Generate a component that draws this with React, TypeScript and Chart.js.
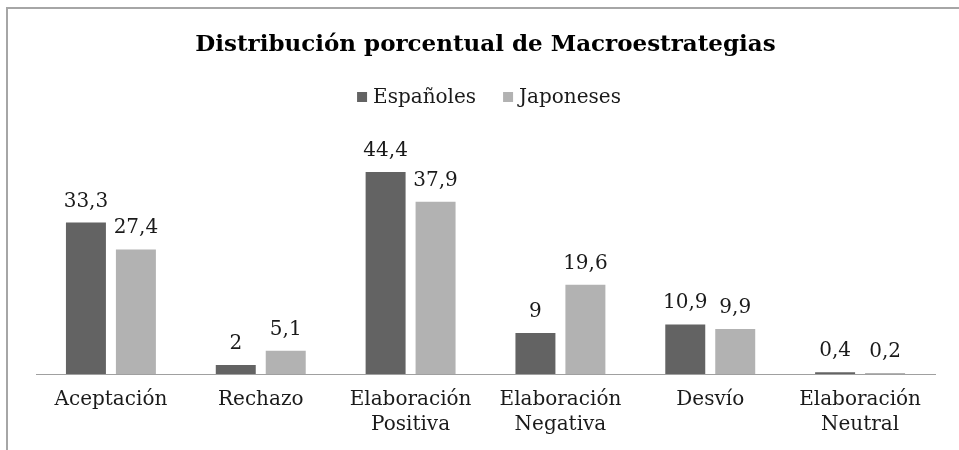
import React, { useEffect, useRef } from "react";
import { Chart, registerables } from "chart.js";

Chart.register(...registerables);

const categories: (string | string[])[] = [
  "Aceptación",
  "Rechazo",
  ["Elaboración", "Positiva"],
  ["Elaboración", "Negativa"],
  "Desvío",
  ["Elaboración", "Neutral"],
];
const espanoles = [33.3, 2, 44.4, 9, 10.9, 0.4];
const japoneses = [27.4, 5.1, 37.9, 19.6, 9.9, 0.2];
const seriesNames = ["Españoles", "Japoneses"];
const seriesColors = ["#636363", "#b2b2b2"];
const titleText = "Distribución porcentual de Macroestrategias";

const FONT = "'DejaVu Serif', serif";

const valueLabels = {
  id: "valueLabels",
  afterDatasetsDraw(chart: any) {
    const ctx = chart.ctx;
    ctx.save();
    ctx.font = `20px ${FONT}`;
    ctx.fillStyle = "#1a1a1a";
    ctx.textAlign = "center";
    ctx.textBaseline = "alphabetic";
    chart.data.datasets.forEach((ds: any, di: number) => {
      const meta = chart.getDatasetMeta(di);
      meta.data.forEach((bar: any, i: number) => {
        const v = ds.data[i];
        ctx.fillText(String(v).replace(".", ","), bar.x, bar.y - 16);
      });
    });
    ctx.restore();
  },
};

const customLegend = {
  id: "customLegend",
  afterDraw(chart: any) {
    const ctx = chart.ctx;
    ctx.save();
    ctx.font = `20px ${FONT}`;
    ctx.textBaseline = "middle";
    ctx.textAlign = "left";
    const box = 10;
    const gapBoxText = 6;
    const gapItems = 27;
    const widths = chart.data.datasets.map((ds: any) => box + gapBoxText + ctx.measureText(ds.label).width);
    const total = widths.reduce((a: number, b: number) => a + b, 0) + gapItems * (widths.length - 1);
    let x = chart.width / 2 + 3 - total / 2;
    const y = 97;
    chart.data.datasets.forEach((ds: any, i: number) => {
      ctx.fillStyle = ds.backgroundColor;
      ctx.fillRect(x, y - box / 2, box, box);
      ctx.fillStyle = "#1a1a1a";
      ctx.fillText(ds.label, x + box + gapBoxText, y + 1);
      x += widths[i] + gapItems;
    });
    ctx.restore();
  },
};

export default function App() {
  const ref = useRef<HTMLCanvasElement | null>(null);
  useEffect(() => {
    if (!ref.current) return;
    const chart = new Chart(ref.current, {
      type: "bar",
      data: {
        labels: categories,
        datasets: [
          { label: seriesNames[0], data: espanoles, backgroundColor: seriesColors[0] },
          { label: seriesNames[1], data: japoneses, backgroundColor: seriesColors[1] },
        ],
      },
      options: {
        responsive: false,
        animation: false,
        devicePixelRatio: 1,
        layout: { padding: { left: 36, right: 37, top: 0, bottom: 0 } },
        datasets: { bar: { categoryPercentage: 0.667, barPercentage: 0.8 } },
        plugins: {
          title: {
            display: true,
            text: titleText,
            color: "#000",
            font: { family: FONT, size: 23, weight: "bold", lineHeight: 1.2 },
            padding: { top: 31, bottom: 88 },
          },
          legend: { display: false },
          tooltip: { enabled: false },
        },
        scales: {
          x: {
            grid: { display: false, drawTicks: false },
            border: { display: true, color: "#a0a0a0", width: 1 },
            ticks: {
              color: "#1a1a1a",
              font: { family: FONT, size: 20, lineHeight: 1.25 },
              padding: 13,
              maxRotation: 0,
              autoSkip: false,
            },
          },
          y: {
            display: false,
            min: 0,
            max: 50,
          },
        },
      },
      plugins: [valueLabels, customLegend],
    });
    return () => chart.destroy();
  }, []);
  return (
    <div style={{ position: "fixed", left: 0, top: 0, width: 959, height: 450, overflow: "hidden", background: "#fff" }}>
      <div
        style={{
          position: "absolute",
          left: 6,
          top: 7,
          width: 1000,
          height: 500,
          borderLeft: "2px solid #a6a6a6",
          borderTop: "2px solid #a6a6a6",
        }}
      />
      <canvas ref={ref} width={972} height={450} style={{ position: "absolute", left: 0, top: 0 }} />
    </div>
  );
}
